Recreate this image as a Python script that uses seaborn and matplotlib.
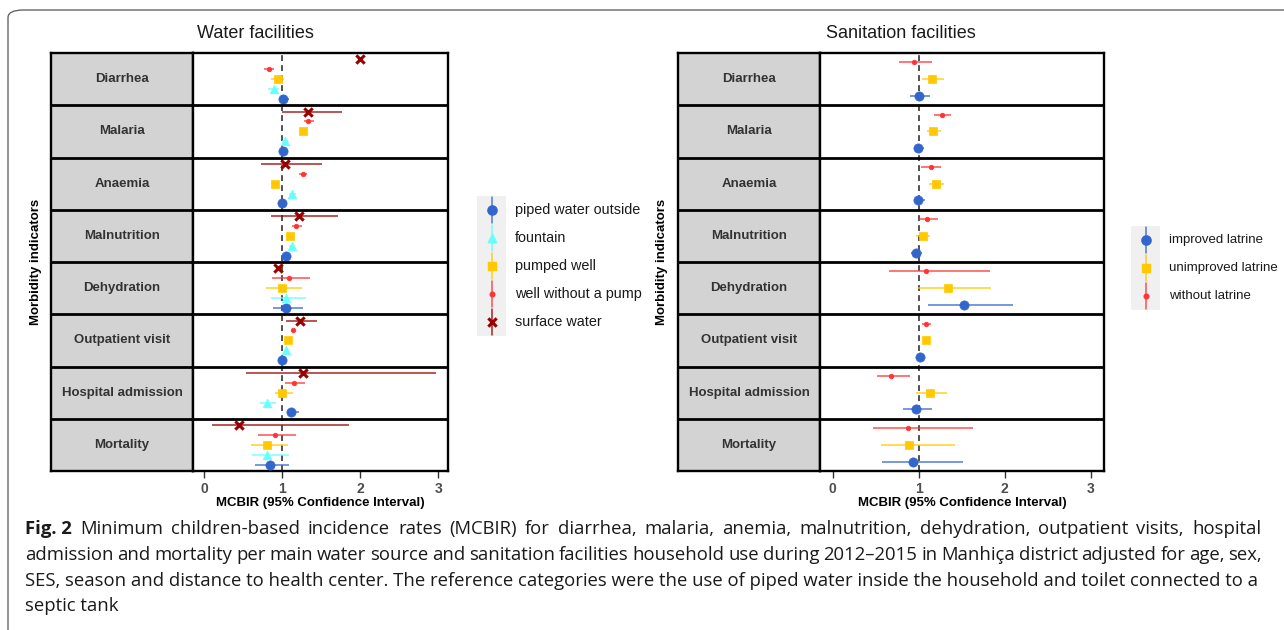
import numpy as np
import pandas as pd
import matplotlib
matplotlib.use("Agg")
import matplotlib.pyplot as plt
import seaborn as sns
from matplotlib.patches import FancyBboxPatch, Rectangle

sns.set_style("white")
plt.rcParams["font.family"] = ["Liberation Sans", "DejaVu Sans"]

# ---------------- data ----------------
indicators = ["Diarrhea", "Malaria", "Anaemia", "Malnutrition", "Dehydration",
              "Outpatient visit", "Hospital admission", "Mortality"]

water_series = ["piped water outside", "fountain", "pumped well",
                "well without a pump", "surface water"]

piped_est = [1.01, 1.01, 1.00, 1.05, 1.05, 1.00, 1.11, 0.84]
piped_lo = [0.96, 0.98, 0.97, 1.02, 0.885, 0.98, 1.06, 0.65]
piped_hi = [1.08, 1.04, 1.03, 1.08, 1.26, 1.02, 1.22, 1.09]

fountain_est = [0.89, 1.03, 1.12, 1.12, 1.05, 1.05, 0.81, 0.81]
fountain_lo = [0.82, 0.99, 1.08, 1.08, 0.85, 1.03, 0.71, 0.61]
fountain_hi = [0.96, 1.07, 1.17, 1.16, 1.30, 1.07, 0.915, 1.08]

pumped_est = [0.94, 1.27, 0.91, 1.10, 1.00, 1.07, 1.00, 0.80]
pumped_lo = [0.86, 1.24, 0.89, 1.05, 0.79, 1.05, 0.90, 0.60]
pumped_hi = [1.02, 1.30, 0.93, 1.16, 1.25, 1.09, 1.14, 1.07]

nopump_est = [0.83, 1.33, 1.27, 1.18, 1.09, 1.14, 1.15, 0.90]
nopump_lo = [0.76, 1.28, 1.21, 1.12, 0.87, 1.12, 1.04, 0.69]
nopump_hi = [0.89, 1.40, 1.32, 1.25, 1.35, 1.16, 1.29, 1.18]

surface_est = [1.99, 1.33, 1.04, 1.21, 0.95, 1.23, 1.27, 0.445]
surface_lo = [1.97, 1.00, 0.73, 0.855, 0.93, 1.05, 0.54, 0.10]
surface_hi = [2.01, 1.77, 1.51, 1.71, 0.97, 1.45, 2.97, 1.86]

san_series = ["improved latrine", "unimproved latrine", "without latrine"]

improved_est = [1.00, 0.995, 0.995, 0.97, 1.53, 1.01, 0.97, 0.93]
improved_lo = [0.90, 0.94, 0.94, 0.91, 1.11, 0.99, 0.82, 0.57]
improved_hi = [1.13, 1.06, 1.07, 1.04, 2.10, 1.03, 1.15, 1.51]

unimproved_est = [1.16, 1.17, 1.20, 1.05, 1.34, 1.08, 1.135, 0.89]
unimproved_lo = [1.04, 1.10, 1.12, 0.97, 0.99, 1.06, 0.97, 0.56]
unimproved_hi = [1.29, 1.26, 1.29, 1.13, 1.84, 1.10, 1.33, 1.42]

nolatrine_est = [0.945, 1.27, 1.14, 1.10, 1.09, 1.09, 0.68, 0.88]
nolatrine_lo = [0.775, 1.18, 1.03, 1.00, 0.655, 1.04, 0.52, 0.47]
nolatrine_hi = [1.15, 1.38, 1.26, 1.23, 1.83, 1.14, 0.895, 1.635]

x_ticks = [0, 1, 2, 3]
x_label = "MCBIR (95% Confidence Interval)"
y_label = "Morbidity indicators"

caption_head = "Fig. 2"
caption_lines = [
    "Minimum children-based incidence rates (MCBIR) for diarrhea, malaria, anemia, malnutrition, dehydration, outpatient visits, hospital",
    "admission and mortality per main water source and sanitation facilities household use during 2012\u20132015 in Manhi\u00e7a district adjusted for age, sex,",
    "SES, season and distance to health center. The reference categories were the use of piped water inside the household and toilet connected to a",
    "septic tank",
]

# ---------------- styles ----------------
BLUE, CYAN, GOLD, RED, DRED = "#3366CC", "#66FFFF", "#FFC800", "#FF3333", "#990000"
water_style = {
    "piped water outside": dict(color=BLUE, marker="o", s=44, off=0.38),
    "fountain": dict(color=CYAN, marker="^", s=38, off=0.19),
    "pumped well": dict(color=GOLD, marker="s", s=30, off=0.0),
    "well without a pump": dict(color=RED, marker="o", s=11, off=-0.19),
    "surface water": dict(color=DRED, marker="x", s=36, off=-0.38),
}
san_style = {
    "improved latrine": dict(color=BLUE, marker="o", s=44, off=0.32),
    "unimproved latrine": dict(color=GOLD, marker="s", s=30, off=0.0),
    "without latrine": dict(color=RED, marker="o", s=11, off=-0.32),
}


def make_df(series_names, ests, los, his, style):
    rows = []
    for name, e, l, h in zip(series_names, ests, los, his):
        for i, ind in enumerate(indicators):
            rows.append(dict(indicator=ind, series=name, est=e[i], lo=l[i], hi=h[i],
                             ypos=i + 0.5 + style[name]["off"]))
    return pd.DataFrame(rows)


water_df = make_df(water_series,
                   [piped_est, fountain_est, pumped_est, nopump_est, surface_est],
                   [piped_lo, fountain_lo, pumped_lo, nopump_lo, surface_lo],
                   [piped_hi, fountain_hi, pumped_hi, nopump_hi, surface_hi],
                   water_style)
san_df = make_df(san_series,
                 [improved_est, unimproved_est, nolatrine_est],
                 [improved_lo, unimproved_lo, nolatrine_lo],
                 [improved_hi, unimproved_hi, nolatrine_hi],
                 san_style)

W, H = 1284, 630
fig = plt.figure(figsize=(W / 100, H / 100), dpi=100)


def fx(px):
    return px / W


def fy(py):
    return 1 - py / H


# outer rounded frame
frame = FancyBboxPatch((fx(8), fy(650)), fx(1300), fy(10) - fy(650),
                       boxstyle="round,pad=0,rounding_size=0.012",
                       transform=fig.transFigure, fill=False, edgecolor="#666666",
                       linewidth=1.0, clip_on=False)
fig.patches.append(frame)

top_px, bot_px = 53, 471


def draw_panel(df, series_names, style, strip_x0, data_x0, data_x1, xlim, title,
               title_cx, ylab_x):
    n = len(indicators)
    sax = fig.add_axes([fx(strip_x0), fy(bot_px), fx(data_x0 - strip_x0), fy(top_px) - fy(bot_px)])
    sax.set_facecolor("#D3D3D3")
    sax.set_xlim(0, 1)
    sax.set_ylim(n, 0)
    for i, ind in enumerate(indicators):
        sax.text(0.5, i + 0.5, ind, ha="center", va="center", fontsize=9.5,
                 fontweight="bold", color="#333333")
    for b in range(1, n):
        sax.axhline(b, color="black", lw=2.0)
    sax.set_xticks([])
    sax.set_yticks([])
    for sp in sax.spines.values():
        sp.set_color("black")
        sp.set_linewidth(1.7)

    ax = fig.add_axes([fx(data_x0), fy(bot_px), fx(data_x1 - data_x0), fy(top_px) - fy(bot_px)])
    ax.set_facecolor("white")
    for name in series_names:
        st = style[name]
        sub = df[df["series"] == name]
        ax.hlines(sub["ypos"], sub["lo"], sub["hi"], color=st["color"], lw=1.1,
                  alpha=0.85, zorder=2)
        if st["marker"] == "x":
            sns.scatterplot(data=sub, x="est", y="ypos", ax=ax, marker="x",
                            color=st["color"], s=st["s"], linewidth=2.2,
                            legend=False, zorder=3)
        else:
            sns.scatterplot(data=sub, x="est", y="ypos", ax=ax, marker=st["marker"],
                            color=st["color"], s=st["s"], edgecolor=st["color"],
                            linewidth=0.5, legend=False, zorder=3)
    ax.axvline(1, color="#333333", lw=1.2, ls=(0, (3.5, 2.5)), zorder=1)
    for b in range(1, n):
        ax.axhline(b, color="black", lw=2.0, zorder=4)
    ax.set_ylim(n, 0)
    ax.set_xlim(*xlim)
    ax.set_xticks(x_ticks)
    ax.set_xticklabels([str(t) for t in x_ticks], fontweight="bold")
    ax.set_yticks([])
    ax.set_xlabel("")
    ax.set_ylabel("")
    ax.tick_params(axis="x", bottom=True, length=5, width=1, color="#333333",
                   labelsize=10, labelcolor="#4D4D4D", pad=3)
    for sp in ax.spines.values():
        sp.set_color("black")
        sp.set_linewidth(1.7)
    fig.text(fx((data_x0 + data_x1) / 2), fy(503), x_label, ha="center", va="center",
             fontsize=9.5, fontweight="bold", color="black")
    fig.text(fx(title_cx), fy(33), title, ha="center", va="center", fontsize=13,
             color="#1a1a1a")
    fig.text(fx(ylab_x), fy((top_px + bot_px) / 2), y_label, ha="center", va="center",
             rotation=90, fontsize=9.5, fontweight="bold", color="black")
    return ax


draw_panel(water_df, water_series, water_style, 51, 193, 448,
           ((193 - 204.3) / 78, (448 - 204.3) / 78), "Water facilities", 255, 36)
draw_panel(san_df, san_series, san_style, 678, 820, 1104,
           ((820 - 832.7) / 86, (1104 - 832.7) / 86), "Sanitation facilities", 901, 662)


def draw_legend(names, style, box_x0, box_x1, y_centers, text_x, key_h, fs):
    lax = fig.add_axes([0, 0, 1, 1], facecolor="none")
    lax.set_xlim(0, W)
    lax.set_ylim(H, 0)
    lax.axis("off")
    top = y_centers[0] - key_h / 2 - 1
    bot = y_centers[-1] + key_h / 2 + 1
    lax.add_patch(Rectangle((box_x0, top), box_x1 - box_x0, bot - top,
                            facecolor="#F0F0F0", edgecolor="none"))
    cx = (box_x0 + box_x1) / 2
    for name, yc in zip(names, y_centers):
        st = style[name]
        lax.plot([cx, cx], [yc - key_h / 2, yc + key_h / 2], color=st["color"], lw=1.1,
                 alpha=0.85)
        if st["marker"] == "x":
            lax.scatter([cx], [yc], marker="x", s=st["s"], color=st["color"], linewidths=2.2,
                        zorder=3)
        else:
            lax.scatter([cx], [yc], marker=st["marker"], s=st["s"], color=st["color"],
                        zorder=3)
        lax.text(text_x, yc, name, ha="left", va="center", fontsize=fs, color="#1a1a1a")


draw_legend(water_series, water_style, 477, 506, [210, 238, 266, 294, 322], 515, 26, 10.4)
draw_legend(san_series, san_style, 1131, 1160, [240, 268, 296], 1169, 26, 9.5)

# ---------------- caption ----------------
cap_font = ["Open Sans", "DejaVu Sans"]
cap_fs = 13.3
cap_col = "#1a1a1a"
renderer = fig.canvas.get_renderer()


def text_width_px(s, **kw):
    t = fig.text(0, 0, s, fontsize=cap_fs, family=cap_font, **kw)
    w = t.get_window_extent(renderer).width
    t.remove()
    return w


def justified(line, x0, x1, ypx):
    words = line.split(" ")
    widths = [text_width_px(w) for w in words]
    gap = (x1 - x0 - sum(widths)) / (len(words) - 1)
    x = x0
    for w, wd in zip(words, widths):
        fig.text(fx(x), fy(ypx), w, ha="left", va="center", fontsize=cap_fs,
                 family=cap_font, color=cap_col)
        x += wd + gap


fig.text(fx(25), fy(529), caption_head, ha="left", va="center", fontsize=cap_fs,
         fontweight="bold", family=cap_font, color=cap_col)
justified(caption_lines[0], 80, 1261, 529)
justified(caption_lines[1], 25, 1262, 555)
fig.text(fx(25), fy(581), caption_lines[2], ha="left", va="center", fontsize=cap_fs,
         family=cap_font, color=cap_col)
fig.text(fx(25), fy(606), caption_lines[3], ha="left", va="center", fontsize=cap_fs,
         family=cap_font, color=cap_col)

fig.savefig("out.png", dpi=100)
